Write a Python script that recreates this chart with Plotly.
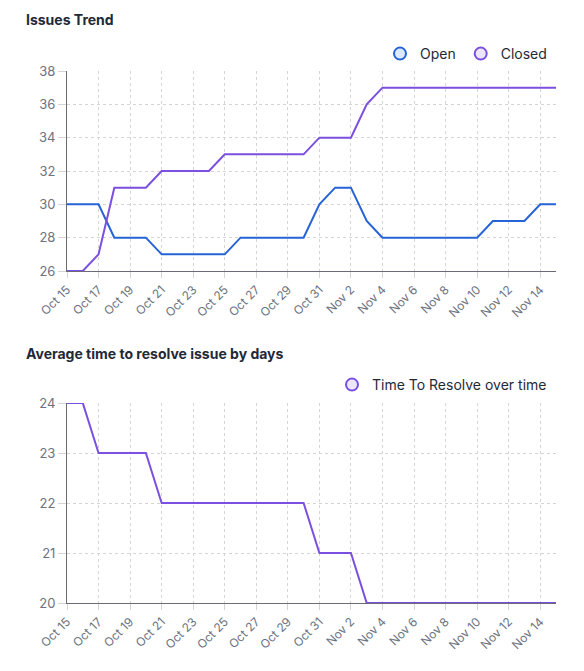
import plotly.graph_objects as go
import pandas as pd

dates = pd.date_range("2023-10-15", "2023-11-15", freq="D").strftime("%Y-%m-%d").tolist()

open_issues = [30, 30, 30, 28, 28, 28, 27, 27, 27, 27, 27, 28, 28, 28, 28, 28,
               30, 31, 31, 29, 28, 28, 28, 28, 28, 28, 28, 29, 29, 29, 30, 30]
closed_issues = [26, 26, 27, 31, 31, 31, 32, 32, 32, 32, 33, 33, 33, 33, 33, 33,
                 34, 34, 34, 36, 37, 37, 37, 37, 37, 37, 37, 37, 37, 37, 37, 37]
time_to_resolve = [24, 24, 23, 23, 23, 23, 22, 22, 22, 22, 22, 22, 22, 22, 22, 22,
                   21, 21, 21, 20, 20, 20, 20, 20, 20, 20, 20, 20, 20, 20, 20, 20]

title1 = "Issues Trend"
title2 = "Average time to resolve issue by days"

BLUE = "#2563d6"
PURPLE = "#7b4fdf"
W, H = 584, 671
FONT = "Inter"

fig = go.Figure()

fig.add_trace(go.Scatter(x=dates, y=open_issues, mode="lines", name="Open",
                         line=dict(color=BLUE, width=2), showlegend=False,
                         xaxis="x", yaxis="y"))
fig.add_trace(go.Scatter(x=dates, y=closed_issues, mode="lines", name="Closed",
                         line=dict(color=PURPLE, width=2), showlegend=False,
                         xaxis="x", yaxis="y"))
fig.add_trace(go.Scatter(x=dates, y=time_to_resolve, mode="lines", name="Time To Resolve over time",
                         line=dict(color=PURPLE, width=2), showlegend=False,
                         xaxis="x2", yaxis="y2"))

# legend-only entries (circle symbols)
for name, col, fill, lg, xa, ya in [("Open", BLUE, "#dbeafe", "legend", "x", "y"),
                                    ("Closed", PURPLE, "#ede7fb", "legend", "x", "y"),
                                    ("Time To Resolve over time", PURPLE, "#ede7fb", "legend2", "x2", "y2")]:
    fig.add_trace(go.Scatter(x=[None], y=[None], mode="markers", name=name,
                             marker=dict(size=12, color=fill, line=dict(color=col, width=2)),
                             showlegend=True, legend=lg, xaxis=xa, yaxis=ya))

xdom = [67 / W, 556 / W]
y1dom = [1 - 271 / H, 1 - 71 / H]
y2dom = [1 - 603 / H, 1 - 403 / H]

GRID = "#d4d4d4"
common_x = dict(
    type="date", range=[dates[0], dates[-1]], tick0=dates[0], dtick=2 * 86400000,
    tickformat="%b %-d", tickangle=-45, showgrid=True, gridcolor=GRID,
    griddash="3px,3px", gridwidth=1, showline=True, linecolor="#6b6b78", linewidth=1,
    ticks="outside", ticklen=6, tickcolor=GRID,
    tickfont=dict(family=FONT, size=12, color="#6b7280"), zeroline=False,
    domain=xdom, fixedrange=True, automargin=False,
)
common_y = dict(
    showgrid=True, gridcolor=GRID, griddash="3px,3px", gridwidth=1,
    showline=True, linecolor="#6b6b78", linewidth=1,
    ticks="outside", ticklen=8, tickcolor=GRID,
    tickfont=dict(family=FONT, size=13, color="#6b7280"), zeroline=False,
    fixedrange=True, automargin=False,
)

fig.update_layout(
    width=W, height=H,
    margin=dict(l=0, r=0, t=0, b=0, autoexpand=False),
    paper_bgcolor="white", plot_bgcolor="white",
    font=dict(family=FONT, color="#1f2937"),
    hovermode=False,
    xaxis=dict(**common_x, anchor="y"),
    yaxis=dict(**common_y, domain=y1dom, range=[26, 38], dtick=2, anchor="x"),
    xaxis2=dict(**common_x, anchor="y2"),
    yaxis2=dict(**common_y, domain=y2dom, range=[20, 24], dtick=1, anchor="x2"),
    legend=dict(orientation="h", x=552 / W, xanchor="right", y=1 - 54 / H, yanchor="middle",
                font=dict(family=FONT, size=14, color="#1f2937"), bgcolor="rgba(0,0,0,0)",
                itemsizing="trace"),
    legend2=dict(orientation="h", x=552 / W, xanchor="right", y=1 - 385 / H, yanchor="middle",
                 font=dict(family=FONT, size=14, color="#1f2937"), bgcolor="rgba(0,0,0,0)",
                 itemsizing="trace"),
    annotations=[
        dict(text="<b>" + title1 + "</b>", x=24 / W, y=1 - 20 / H, xref="paper", yref="paper",
             xanchor="left", yanchor="middle", showarrow=False,
             font=dict(family=FONT, size=14, color="#1f2937")),
        dict(text="<b>" + title2 + "</b>", x=24 / W, y=1 - 353 / H, xref="paper", yref="paper",
             xanchor="left", yanchor="middle", showarrow=False,
             font=dict(family=FONT, size=14, color="#1f2937")),
    ],
)

fig.write_html("out.html", config={"displayModeBar": False})
